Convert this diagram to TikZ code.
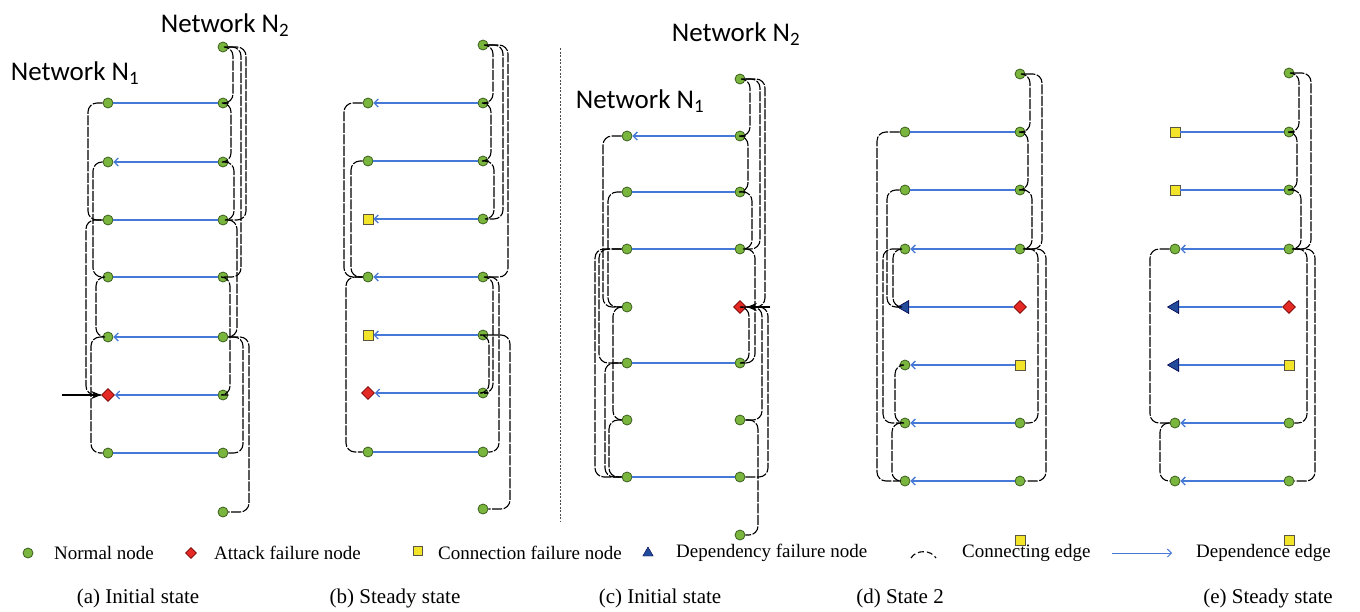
\documentclass[tikz,border=0pt]{standalone}
\usepackage{fontspec}
\setmainfont{Liberation Serif}
\newfontfamily\netfont{Carlito}
\usetikzlibrary{shapes.geometric, arrows.meta, positioning}
\definecolor{nodegreen}{RGB}{122,182,62}
\definecolor{nodeedge}{RGB}{60,95,30}
\definecolor{attackred}{RGB}{228,42,36}
\definecolor{connyellow}{RGB}{242,228,40}
\definecolor{depblue}{RGB}{35,75,155}
\definecolor{edgeblue}{RGB}{70,120,215}
\tikzstyle{normal} = [circle, draw=nodeedge, fill=nodegreen, line width=0.8pt, inner sep=0pt, minimum size=10pt]
\tikzstyle{attack} = [diamond, draw=red!45!black, fill=attackred, line width=0.6pt, inner sep=0pt, minimum size=13pt]
\tikzstyle{connfail} = [rectangle, draw=black!75!yellow, fill=connyellow, line width=0.8pt, inner sep=0pt, minimum size=10pt]
\tikzstyle{depfail} = [regular polygon, regular polygon sides=3, shape border rotate=90, draw=black!70!blue, fill=depblue, line width=0.6pt, inner sep=0pt, minimum size=15pt]
\tikzstyle{depedge} = [edgeblue, line width=1.3pt]
\tikzstyle{deparrow} = [depedge, -{Straight Barb[length=4pt,width=8pt]}]
\tikzstyle{conn} = [black, line width=1.1pt, dash pattern=on 10pt off 1.5pt, rounded corners=9pt]
\tikzstyle{attackarrow} = [black, line width=1.5pt, -{Stealth[length=10pt,width=8pt]}]
\tikzstyle{netlabel} = [font=\netfont\fontsize{27}{30}\selectfont, inner sep=0pt]
\tikzstyle{caption} = [font=\fontsize{21}{24}\selectfont, inner sep=0pt]
\tikzstyle{legend} = [font=\fontsize{19}{21}\selectfont, inner sep=0pt, anchor=west]
\newcommand{\linkR}[3]{\draw[conn] (#1) -- ++(#3,0) |- (#2);}
\newcommand{\linkL}[3]{\draw[conn] (#1) -- ++(-#3,0) |- (#2);}

\begin{document}
\begin{tikzpicture}[x=1pt, y=-1pt]
    \useasboundingbox (0,0) rectangle (1360,611);

            % Labels
            \node (netA2) [netlabel] at (225,25) {Network N\textsubscript{2}};
            \node (netA1) [netlabel] at (75,73) {Network N\textsubscript{1}};
            \node (netC2) [netlabel] at (736,34) {Network N\textsubscript{2}};
            \node (netC1) [netlabel] at (640,101) {Network N\textsubscript{1}};
            \coordinate (sepTop) at (560,48);
            \coordinate (sepBot) at (560,522);
            \draw [black!70, dash pattern=on 2pt off 1.5pt] (sepTop) -- (sepBot);

            % (a) Initial state
            \node (aR0) [normal] at (223,47) {};
            \node (aL1) [normal] at (108,103) {}; \node (aR1) [normal] at (223,103) {};
            \node (aL2) [normal] at (108,162) {}; \node (aR2) [normal] at (223,162) {};
            \node (aL3) [normal] at (108,220) {}; \node (aR3) [normal] at (223,220) {};
            \node (aL4) [normal] at (108,277) {}; \node (aR4) [normal] at (223,277) {};
            \node (aL5) [normal] at (108,337) {}; \node (aR5) [normal] at (223,337) {};
            \node (aL6) [attack] at (108,395) {}; \node (aR6) [normal] at (223,395) {};
            \node (aL7) [normal] at (108,453) {}; \node (aR7) [normal] at (223,453) {};
            \node (aR8) [normal] at (223,512) {};

            % (b) Steady state
            \node (bR0) [normal] at (483,45) {};
            \node (bL1) [normal] at (368,103) {}; \node (bR1) [normal] at (483,103) {};
            \node (bL2) [normal] at (368,161) {}; \node (bR2) [normal] at (483,161) {};
            \node (bL3) [connfail] at (368,219) {}; \node (bR3) [normal] at (483,219) {};
            \node (bL4) [normal] at (368,277) {}; \node (bR4) [normal] at (483,277) {};
            \node (bL5) [connfail] at (368,335) {}; \node (bR5) [normal] at (483,335) {};
            \node (bL6) [attack] at (368,393) {}; \node (bR6) [normal] at (483,393) {};
            \node (bL7) [normal] at (368,452) {}; \node (bR7) [normal] at (483,452) {};
            \node (bR8) [normal] at (483,509) {};

            % (c) Initial state
            \node (cR0) [normal] at (740,79) {};
            \node (cL1) [normal] at (627,136) {}; \node (cR1) [normal] at (740,136) {};
            \node (cL2) [normal] at (627,192) {}; \node (cR2) [normal] at (740,192) {};
            \node (cL3) [normal] at (627,249) {}; \node (cR3) [normal] at (740,249) {};
            \node (cL4) [normal] at (627,307) {}; \node (cR4) [attack] at (740,307) {};
            \node (cL5) [normal] at (627,363) {}; \node (cR5) [normal] at (740,363) {};
            \node (cL6) [normal] at (627,420) {}; \node (cR6) [normal] at (740,420) {};
            \node (cL7) [normal] at (627,477) {}; \node (cR7) [normal] at (740,477) {};
            \node (cR8) [normal] at (740,535) {};

            % (d) State 2
            \node (dR0) [normal] at (1020,74) {};
            \node (dL1) [normal] at (905,132) {}; \node (dR1) [normal] at (1020,132) {};
            \node (dL2) [normal] at (905,190) {}; \node (dR2) [normal] at (1020,190) {};
            \node (dL3) [normal] at (905,249) {}; \node (dR3) [normal] at (1020,249) {};
            \node (dL4) [depfail] at (905,307) {}; \node (dR4) [attack] at (1020,307) {};
            \node (dL5) [normal] at (905,365) {}; \node (dR5) [connfail] at (1020,365) {};
            \node (dL6) [normal] at (905,423) {}; \node (dR6) [normal] at (1020,423) {};
            \node (dL7) [normal] at (905,481) {}; \node (dR7) [normal] at (1020,481) {};
            \node (dR8) [connfail] at (1020,540) {};

            % (e) Steady state
            \node (eR0) [normal] at (1289,73) {};
            \node (eL1) [connfail] at (1175,132) {}; \node (eR1) [normal] at (1289,132) {};
            \node (eL2) [connfail] at (1175,190) {}; \node (eR2) [normal] at (1289,190) {};
            \node (eL3) [normal] at (1175,249) {}; \node (eR3) [normal] at (1289,249) {};
            \node (eL4) [depfail] at (1175,307) {}; \node (eR4) [attack] at (1289,307) {};
            \node (eL5) [depfail] at (1175,365) {}; \node (eR5) [connfail] at (1289,365) {};
            \node (eL6) [normal] at (1175,423) {}; \node (eR6) [normal] at (1289,423) {};
            \node (eL7) [normal] at (1175,481) {}; \node (eR7) [normal] at (1289,481) {};
            \node (eR8) [connfail] at (1289,540) {};

            % Dependence edges
            \draw [depedge] (aR1) -- (aL1);
            \draw [deparrow] (aR2) -- (aL2);
            \draw [depedge] (aR3) -- (aL3);
            \draw [depedge] (aR4) -- (aL4);
            \draw [deparrow] (aR5) -- (aL5);
            \draw [deparrow] (aR6) -- (aL6);
            \draw [depedge] (aR7) -- (aL7);
            \draw [deparrow] (bR1) -- (bL1);
            \draw [depedge] (bR2) -- (bL2);
            \draw [deparrow] (bR3) -- (bL3);
            \draw [deparrow] (bR4) -- (bL4);
            \draw [deparrow] (bR5) -- (bL5);
            \draw [deparrow] (bR6) -- (bL6);
            \draw [depedge] (bR7) -- (bL7);
            \draw [deparrow] (cR1) -- (cL1);
            \draw [depedge] (cR2) -- (cL2);
            \draw [depedge] (cR3) -- (cL3);
            \draw [depedge] (cR5) -- (cL5);
            \draw [depedge] (cR7) -- (cL7);
            \draw [depedge] (dR1) -- (dL1);
            \draw [depedge] (dR2) -- (dL2);
            \draw [deparrow] (dR3) -- (dL3);
            \draw [depedge] (dR4) -- (dL4);
            \draw [deparrow] (dR5) -- (dL5);
            \draw [deparrow] (dR6) -- (dL6);
            \draw [deparrow] (dR7) -- (dL7);
            \draw [depedge] (eR1) -- (eL1);
            \draw [depedge] (eR2) -- (eL2);
            \draw [deparrow] (eR3) -- (eL3);
            \draw [depedge] (eR4) -- (eL4);
            \draw [depedge] (eR5) -- (eL5);
            \draw [deparrow] (eR6) -- (eL6);
            \draw [deparrow] (eR7) -- (eL7);

            % Connecting edges, network N2
            \linkR{aR0}{aR1}{10} \linkR{aR0}{aR4}{18} \linkR{aR0}{aR3}{23}
            \linkR{aR1}{aR2}{8} \linkR{aR2}{aR3}{11} \linkR{aR3}{aR5}{14}
            \linkR{aR6}{aR4}{7} \linkR{aR5}{aR8}{26} \linkR{aR7}{aR5}{20}
            \linkR{bR0}{bR1}{10} \linkR{bR0}{bR3}{20} \linkR{bR0}{bR4}{25}
            \linkR{bR1}{bR2}{8} \linkR{bR2}{bR3}{11} \linkR{bR4}{bR6}{10}
            \linkR{bR5}{bR8}{27} \linkR{bR4}{bR7}{16} \linkR{bR5}{bR6}{6}
            \linkR{cR0}{cR1}{10} \linkR{cR0}{cR3}{20} \linkR{cR0}{cR4}{25}
            \linkR{cR1}{cR2}{8} \linkR{cR2}{cR3}{12} \linkR{cR3}{cR5}{15}
            \linkR{cR4}{cR6}{22} \linkR{cR4}{cR5}{9} \linkR{cR6}{cR8}{18}
            \linkR{cR7}{cR4}{28}
            \linkR{dR0}{dR1}{10} \linkR{dR0}{dR3}{22} \linkR{dR1}{dR2}{8}
            \linkR{dR2}{dR3}{12} \linkR{dR3}{dR6}{18} \linkR{dR3}{dR7}{26}
            \linkR{eR0}{eR1}{10} \linkR{eR0}{eR3}{22} \linkR{eR1}{eR2}{8}
            \linkR{eR2}{eR3}{12} \linkR{eR3}{eR6}{18} \linkR{eR3}{eR7}{26}

            % Connecting edges, network N1
            \linkL{aL1}{aL3}{20} \linkL{aL2}{aL4}{15} \linkL{aL3}{aL6}{22}
            \linkL{aL4}{aL5}{12} \linkL{aL5}{aL7}{17}
            \linkL{bL1}{bL4}{24} \linkL{bL2}{bL4}{17} \linkL{bL4}{bL7}{22}
            \linkL{cL1}{cL4}{24} \linkL{cL2}{cL4}{19} \linkL{cL3}{cL5}{28}
            \linkL{cL4}{cL6}{14} \linkL{cL5}{cL7}{22} \linkL{cL6}{cL7}{18}
            \linkL{cL3}{cL7}{32}
            \linkL{dL1}{dL7}{28} \linkL{dL2}{dL4}{18} \linkL{dL3}{dL6}{22}
            \linkL{dL3}{dL4}{12} \linkL{dL5}{dL6}{10} \linkL{dL6}{dL7}{13}
            \linkL{eL3}{eL6}{25} \linkL{eL6}{eL7}{15}

            % Attacks
            \coordinate (hitA) at (62,395);
            \coordinate (hitC) at (770,307);
            \draw [attackarrow] (hitA) -- (aL6);
            \draw [attackarrow] (hitC) -- (cR4);

            % Legend
            \node (lgNormal) [normal] at (28,553) {};
            \node (lgNormalT) [legend] at (54,553) {Normal node};
            \node (lgAttack) [attack, minimum size=11pt] at (191,553) {};
            \node (lgAttackT) [legend] at (214,553) {Attack failure node};
            \node (lgConn) [connfail, minimum size=9pt] at (418,551) {};
            \node (lgConnT) [legend] at (438,553) {Connection failure node};
            \node (lgDep) [regular polygon, regular polygon sides=3, draw=black!70!blue, fill=depblue, inner sep=0pt, minimum size=12pt] at (648,553) {};
            \node (lgDepT) [legend] at (676,553) {Dependency failure node};
            \coordinate (arcL) at (911,558);
            \coordinate (arcR) at (936,558);
            \draw [conn, dash pattern=on 6pt off 3pt] (arcL) to[bend left=60] (arcR);
            \node (lgConnectT) [legend] at (962,553) {Connecting edge};
            \coordinate (arrL) at (1112,553);
            \coordinate (arrR) at (1172,553);
            \draw [deparrow, line width=0.9pt] (arrL) -- (arrR);
            \node (lgDependT) [legend] at (1196,553) {Dependence edge};

            % Captions
            \node (capA) [caption] at (138,598) {(a) Initial state};
            \node (capB) [caption] at (395,598) {(b) Steady state};
            \node (capC) [caption] at (660,598) {(c) Initial state};
            \node (capD) [caption] at (900,598) {(d) State 2};
            \node (capE) [caption] at (1268,598) {(e) Steady state};

        \end{tikzpicture}
\end{document}
